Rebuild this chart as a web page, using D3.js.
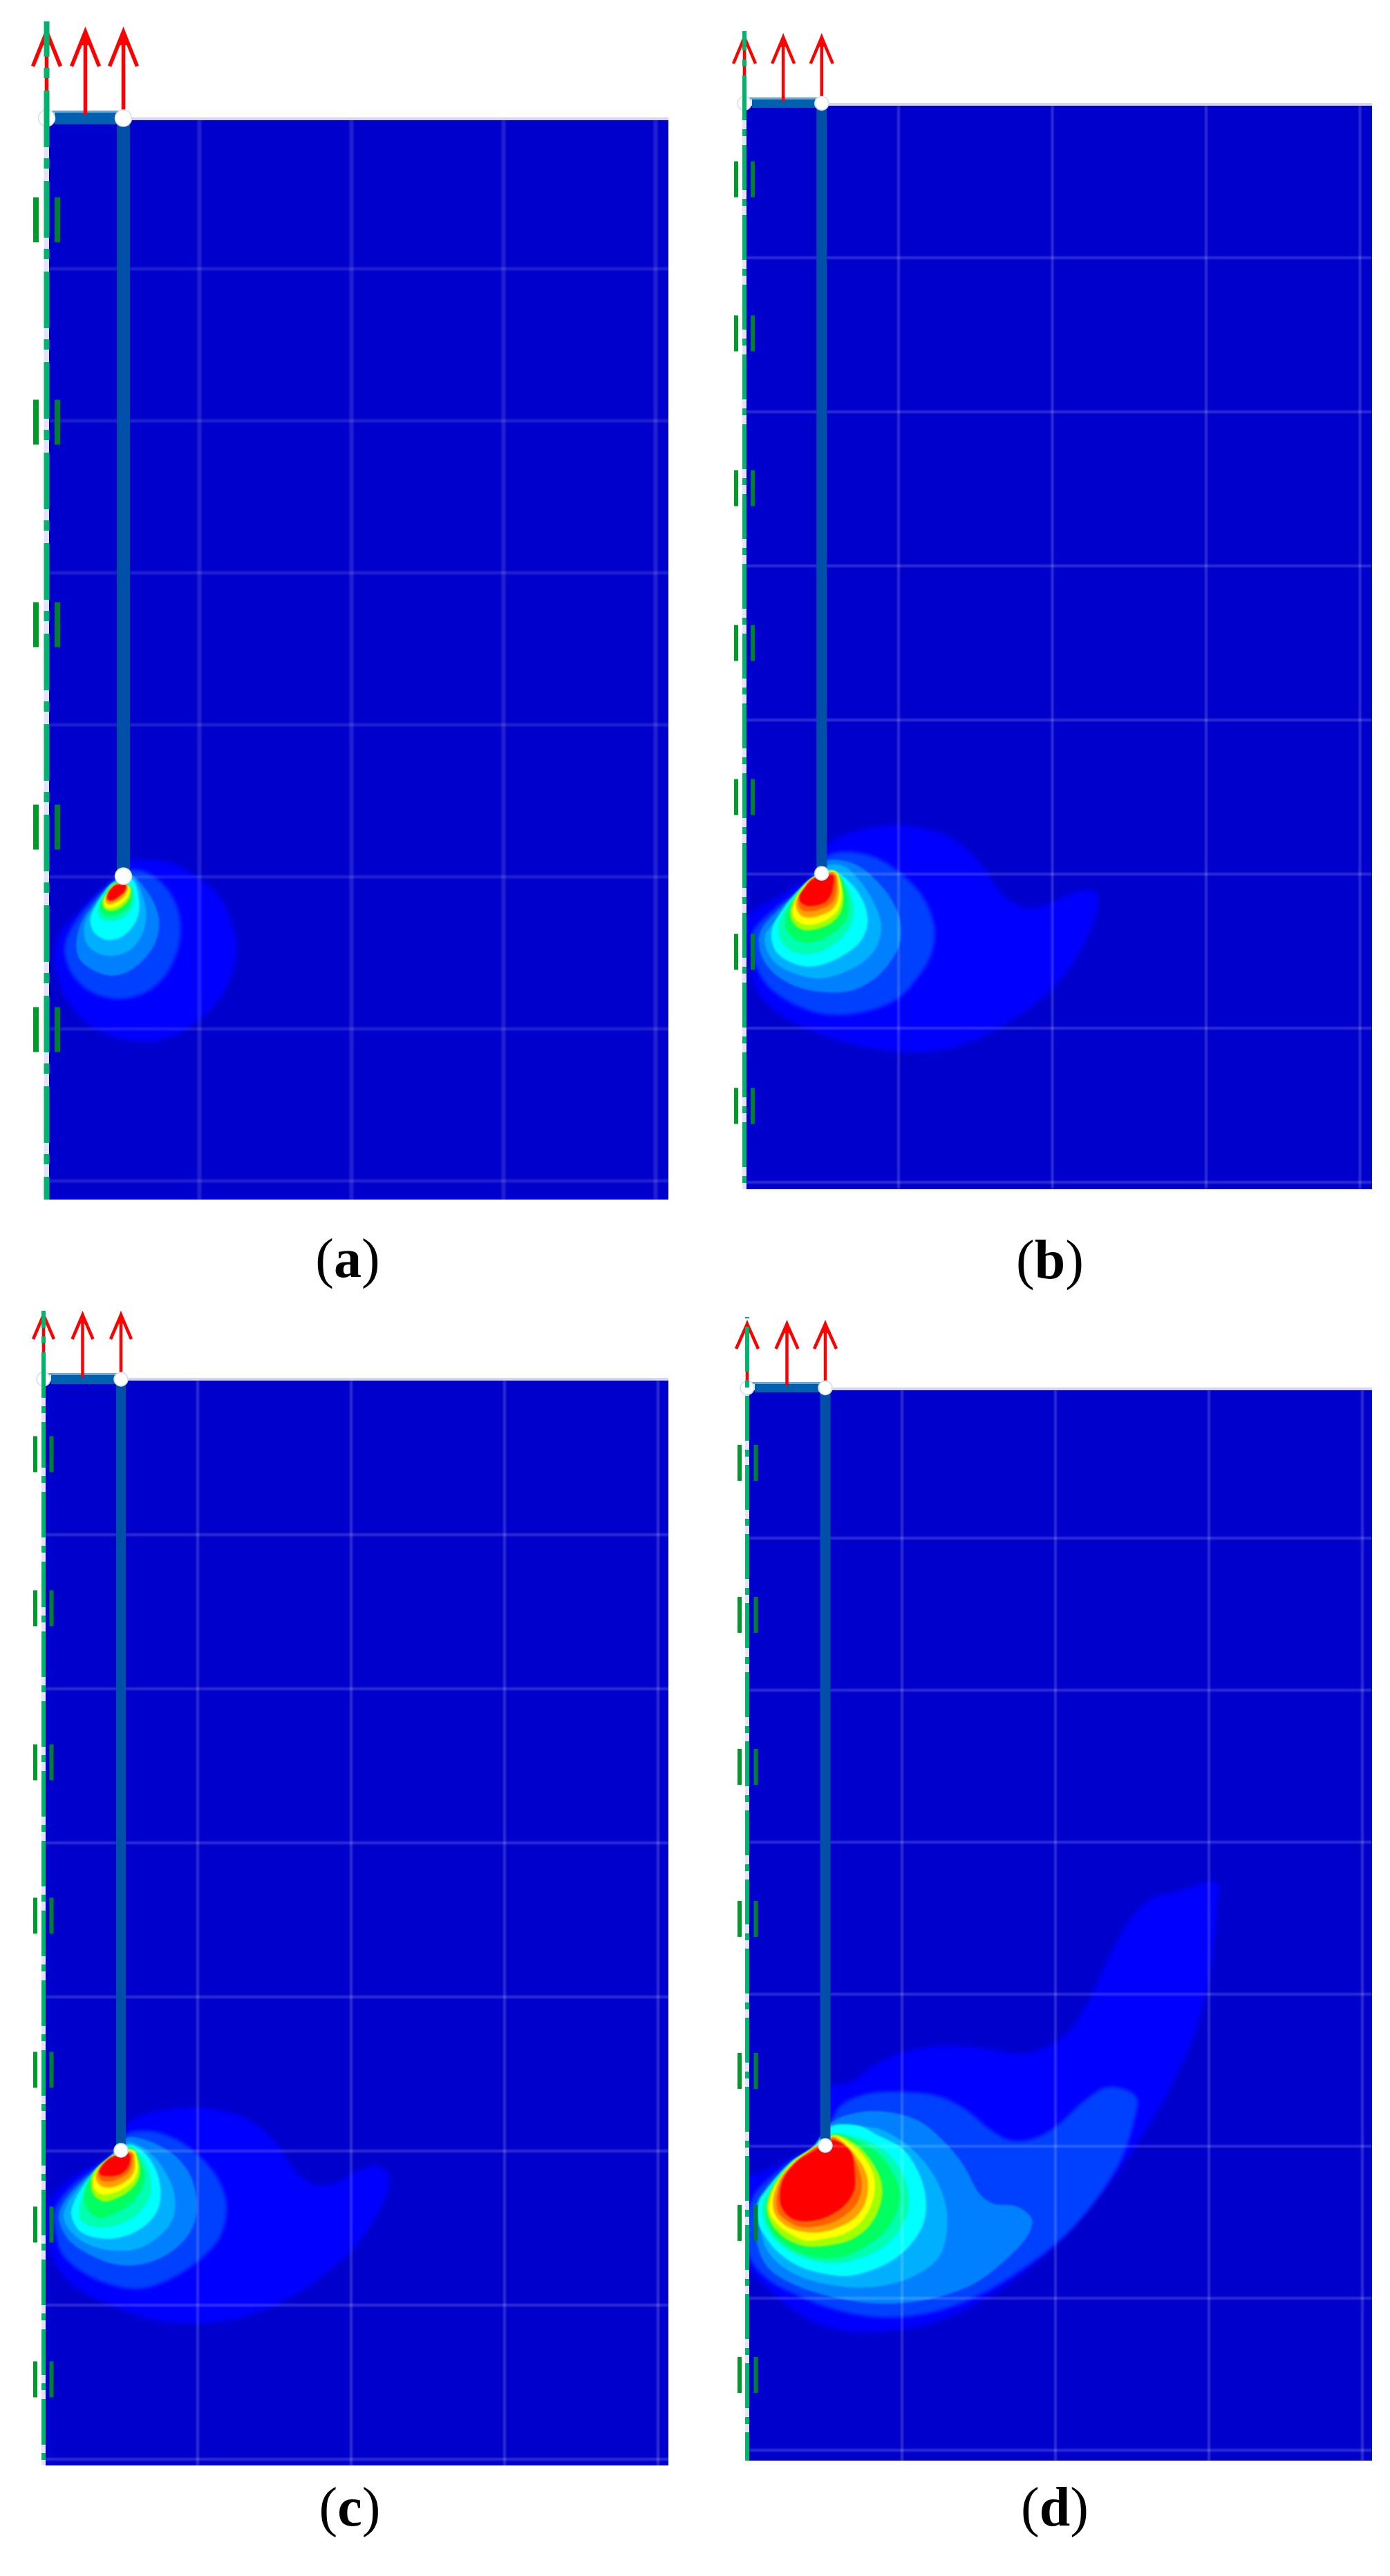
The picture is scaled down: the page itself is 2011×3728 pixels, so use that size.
<!DOCTYPE html>
<html lang="en">
<head>
<meta charset="UTF-8">
<title>Plastic strain contours around an uplifted anchor</title>
<script src="https://d3js.org/d3.v7.min.js"></script>
<style>
    body { margin: 0; background: #fff; }
    svg { display: block; }
    .label { font-family: "Liberation Serif", serif; fill: #000; }
</style>
</head>
<body>
<svg width="2011" height="3728"></svg>
<script>
// model units: 220 per grid cell, origin at the first grid crossing, anchor tip at (110, 1099)
const gridX = [220, 440, 660, 880];
const gridY = [220, 440, 660, 880, 1100, 1320, 1540];
const levelColors = ["#0000ff", "#0040ff", "#0080ff", "#00b0ff", "#00ffff", "#00ffb0", "#00ff60", "#a0ff00", "#ffff00", "#ffa000", "#ff6000", "#ff0000"];
const panelNames = ["a", "b", "c", "d"];

const supportsA = [149, 442, 735, 1028, 1321];
const supportsB = [108, 328, 549, 770, 990, 1211, 1431];
const supportsC = [105, 325, 545, 764, 984, 1205, 1426];
const supportsD = [111, 331, 551, 771, 991, 1211, 1431];

const contoursA = [
  [0, [[119,1078],[148,1076],[182,1081],[215,1099],[245,1124],[265,1161],[274,1201],[268,1238],[248,1278],[222,1304],[188,1328],[148,1338],[115,1336],[82,1326],[48,1304],[25,1271],[13,1238],[10,1211],[18,1181],[48,1148],[72,1124],[97,1103]]],
  [1, [[119,1090],[142,1093],[168,1111],[187,1141],[193,1174],[188,1208],[172,1241],[148,1264],[115,1276],[82,1274],[52,1259],[32,1234],[25,1208],[28,1188],[45,1158],[65,1134],[95,1106]]],
  [2, [[122,1098],[142,1118],[157,1144],[162,1168],[155,1198],[138,1221],[115,1238],[92,1243],[68,1236],[48,1221],[42,1204],[47,1171],[65,1141],[95,1108]]],
  [3, [[122,1099],[138,1128],[143,1154],[138,1181],[122,1204],[98,1214],[75,1211],[58,1198],[53,1178],[58,1158],[75,1134],[95,1108]]],
  [4, [[122,1103],[132,1128],[132,1154],[122,1174],[105,1188],[85,1191],[68,1181],[62,1164],[65,1151],[78,1128],[97,1108]]],
  [5, [[121,1114],[126,1131],[121,1148],[106,1161],[88,1164],[76,1159],[73,1146],[81,1128],[96,1109]]],
  [6, [[120,1116],[122,1131],[117,1144],[103,1154],[88,1157],[80,1153],[76,1141],[83,1126],[96,1110]]],
  [7, [[119,1114],[120,1128],[113,1139],[102,1147],[88,1149],[81,1144],[80,1134],[87,1123],[96,1111]]],
  [8, [[118,1114],[118,1126],[110,1136],[100,1143],[88,1145],[82,1140],[82,1133],[88,1122],[96,1112]]],
  [9, [[116,1113],[114,1124],[106,1133],[96,1138],[88,1140],[84,1136],[85,1129],[90,1120],[97,1112]]],
  [11, [[114,1112],[112,1121],[103,1129],[95,1134],[89,1134],[86,1131],[88,1123],[93,1116],[100,1111]]]
];

const contoursB = [
  [0, [[118,1058],[150,1041],[185,1033],[220,1030],[255,1035],[291,1046],[319,1066],[340,1089],[358,1115],[375,1135],[400,1148],[429,1145],[457,1132],[481,1124],[501,1125],[506,1142],[499,1168],[483,1204],[460,1240],[425,1277],[386,1306],[340,1332],[291,1349],[238,1354],[185,1349],[132,1336],[79,1316],[40,1293],[19,1270],[10,1244],[5,1198],[3,1165],[19,1148],[44,1135],[72,1117],[96,1104]]],
  [1, [[118,1074],[142,1068],[171,1071],[199,1082],[227,1102],[252,1128],[268,1161],[272,1184],[266,1217],[248,1247],[220,1277],[185,1293],[142,1301],[103,1298],[65,1283],[33,1260],[17,1234],[10,1201],[12,1181],[44,1148],[75,1125],[96,1105]]],
  [2, [[118,1081],[142,1081],[164,1089],[188,1109],[209,1135],[222,1165],[222,1198],[209,1224],[185,1250],[150,1267],[107,1268],[72,1260],[40,1240],[24,1217],[20,1191],[26,1175],[51,1148],[96,1107]]],
  [3, [[121,1087],[142,1089],[164,1109],[185,1142],[195,1171],[190,1201],[171,1224],[142,1240],[107,1249],[72,1242],[44,1227],[31,1207],[29,1188],[40,1171],[65,1142],[98,1107]]],
  [4, [[123,1094],[144,1106],[164,1129],[174,1152],[175,1175],[164,1198],[144,1214],[118,1227],[88,1232],[62,1224],[45,1211],[38,1191],[40,1175],[55,1149],[75,1125],[96,1107]]],
  [5, [[128,1096],[146,1117],[155,1140],[155,1163],[144,1185],[126,1201],[101,1213],[75,1213],[55,1200],[48,1183],[50,1165],[65,1140],[95,1107]]],
  [6, [[128,1096],[143,1117],[148,1140],[146,1162],[134,1178],[115,1191],[91,1198],[72,1193],[60,1180],[58,1165],[65,1144],[95,1107]]],
  [7, [[129,1096],[139,1117],[141,1139],[136,1157],[124,1170],[105,1178],[85,1180],[72,1173],[65,1160],[67,1144],[75,1129],[96,1106]]],
  [8, [[129,1096],[138,1119],[138,1137],[133,1152],[121,1163],[103,1171],[85,1172],[73,1165],[68,1155],[70,1142],[96,1106]]],
  [9, [[129,1098],[134,1116],[133,1135],[126,1149],[113,1157],[95,1162],[82,1160],[75,1152],[73,1140],[82,1125],[98,1106]]],
  [10, [[128,1099],[131,1116],[129,1132],[121,1144],[108,1150],[95,1153],[83,1152],[77,1145],[77,1135],[85,1122],[98,1106]]],
  [11, [[126,1101],[126,1119],[123,1130],[115,1140],[101,1145],[88,1145],[80,1140],[78,1132],[86,1119],[98,1107]]]
];

const contoursC = [
  [0, [[117,1063],[145,1047],[181,1040],[216,1038],[252,1042],[287,1052],[315,1071],[337,1094],[354,1121],[372,1140],[393,1149],[421,1145],[446,1130],[471,1121],[489,1127],[494,1147],[486,1173],[466,1209],[443,1239],[407,1272],[361,1305],[305,1331],[252,1344],[198,1346],[145,1338],[92,1318],[50,1298],[22,1272],[9,1242],[2,1203],[4,1177],[25,1150],[53,1130],[78,1117],[99,1104]]],
  [1, [[117,1076],[142,1071],[170,1075],[198,1088],[227,1111],[248,1137],[260,1167],[261,1193],[252,1223],[227,1252],[195,1275],[156,1293],[128,1297],[92,1290],[53,1272],[25,1246],[16,1216],[13,1193],[16,1180],[36,1153],[64,1130],[99,1104]]],
  [2, [[119,1081],[138,1082],[163,1091],[188,1107],[209,1134],[218,1167],[216,1200],[202,1226],[174,1249],[138,1262],[103,1262],[67,1249],[37,1229],[23,1206],[21,1190],[30,1170],[53,1144],[99,1104]]],
  [3, [[121,1088],[138,1093],[160,1111],[181,1144],[188,1173],[183,1200],[163,1223],[135,1239],[99,1242],[64,1234],[39,1216],[28,1196],[32,1177],[57,1144],[99,1104]]],
  [4, [[122,1091],[142,1101],[160,1127],[167,1157],[163,1183],[145,1206],[117,1221],[85,1225],[53,1216],[39,1193],[41,1177],[60,1144],[99,1105]]],
  [5, [[124,1094],[142,1111],[152,1137],[152,1163],[138,1186],[110,1204],[78,1209],[53,1200],[50,1183],[66,1140],[99,1106]]],
  [6, [[126,1096],[137,1114],[144,1134],[138,1157],[124,1175],[99,1190],[78,1195],[62,1183],[57,1163],[66,1137],[99,1106]]],
  [7, [[127,1098],[137,1121],[135,1140],[122,1157],[103,1168],[85,1172],[71,1163],[67,1147],[71,1130],[99,1106]]],
  [8, [[127,1099],[134,1121],[131,1137],[119,1150],[99,1160],[82,1162],[71,1153],[71,1137],[99,1107]]],
  [9, [[126,1101],[130,1121],[126,1134],[114,1145],[96,1152],[82,1150],[74,1140],[76,1129],[99,1107]]],
  [10, [[125,1103],[125,1121],[119,1132],[106,1140],[92,1144],[82,1142],[77,1134],[80,1125],[99,1108]]],
  [11, [[122,1104],[122,1119],[115,1129],[103,1135],[91,1136],[81,1134],[79,1129],[87,1116],[99,1108]]]
];

const contoursD = [
  [0, [[117,1013],[143,1009],[181,982],[223,964],[271,955],[328,957],[394,966],[427,957],[456,937],[484,897],[517,826],[550,768],[579,741],[621,730],[652,719],[672,719],[672,754],[662,844],[645,920],[621,982],[584,1053],[541,1120],[489,1187],[441,1241],[385,1290],[323,1330],[261,1357],[195,1368],[133,1366],[81,1348],[34,1312],[5,1281],[-5,1232],[-5,1147],[24,1136],[57,1120],[100,1098]]],
  [1, [[117,1067],[133,1040],[171,1024],[218,1021],[271,1027],[309,1045],[347,1076],[375,1091],[408,1089],[441,1071],[479,1036],[512,1015],[541,1018],[557,1031],[552,1067],[534,1120],[498,1178],[451,1232],[394,1277],[328,1317],[261,1341],[195,1348],[133,1339],[72,1317],[24,1290],[1,1259],[-3,1210],[8,1170],[34,1143],[62,1120],[100,1098]]],
  [2, [[117,1067],[157,1051],[204,1051],[247,1065],[285,1098],[309,1129],[332,1170],[351,1183],[384,1187],[406,1205],[401,1228],[370,1263],[323,1299],[261,1321],[195,1328],[133,1321],[72,1303],[29,1277],[12,1241],[10,1187],[29,1156],[62,1123],[100,1098]]],
  [3, [[117,1071],[152,1071],[190,1076],[233,1103],[266,1143],[283,1187],[283,1232],[271,1263],[233,1290],[176,1304],[119,1301],[62,1283],[29,1254],[17,1219],[19,1178],[62,1125],[100,1098]]],
  [4, [[117,1072],[157,1070],[185,1084],[221,1104],[245,1141],[254,1177],[251,1211],[231,1244],[205,1266],[172,1281],[139,1288],[106,1284],[73,1274],[43,1254],[24,1231],[14,1211],[14,1181],[27,1161],[60,1124],[90,1104]]],
  [5, [[122,1082],[146,1084],[192,1104],[218,1134],[229,1164],[229,1191],[215,1224],[192,1247],[162,1261],[132,1269],[99,1267],[66,1256],[40,1237],[24,1214],[19,1191],[27,1167],[60,1124],[90,1104]]],
  [6, [[122,1083],[139,1086],[182,1107],[208,1141],[217,1167],[212,1197],[195,1224],[169,1244],[139,1259],[106,1262],[73,1254],[50,1241],[32,1221],[25,1194],[32,1167],[60,1126],[90,1104]]],
  [7, [[122,1084],[136,1087],[165,1107],[187,1141],[192,1164],[187,1191],[172,1217],[146,1236],[113,1244],[83,1245],[57,1236],[37,1219],[27,1197],[27,1181],[35,1159],[60,1126],[90,1104]]],
  [8, [[122,1085],[132,1087],[162,1111],[179,1141],[181,1164],[175,1187],[162,1209],[139,1226],[109,1234],[83,1237],[60,1227],[40,1212],[29,1194],[29,1181],[38,1157],[60,1127],[90,1105]]],
  [9, [[122,1086],[129,1089],[154,1114],[169,1141],[171,1164],[165,1187],[152,1204],[132,1216],[106,1224],[80,1224],[57,1217],[40,1202],[35,1187],[37,1167],[47,1144],[60,1129],[90,1105]]],
  [10, [[122,1088],[126,1091],[149,1114],[160,1141],[162,1161],[156,1181],[142,1197],[123,1209],[99,1216],[76,1217],[57,1209],[43,1196],[40,1181],[42,1164],[50,1144],[90,1106]]],
  [11, [[121,1091],[146,1107],[152,1137],[151,1164],[139,1184],[119,1199],[96,1207],[73,1208],[57,1201],[47,1187],[45,1171],[50,1147],[70,1121],[93,1107]]]
];

const contours = [contoursA, contoursB, contoursC, contoursD];
const supports = [supportsA, supportsB, supportsC, supportsD];

// where each panel sits on the page
const layout = [
  {x0: 68.5, ux: 220, y0: 169, uy: 220, left: 71, right: 967, top: 174, bottom: 1736, axisX: 67.5, axisW: 8, axisTop: 31, dash: "82 16 15 18", dashStart: 131, shaftW: 19, r: 12, plateTop: 160, plateBot: 180, arrowTip: 40, barbY: 96, barbW: 20, arrowBase: 166, arrowW: 5.5, supL: 52, supR: 83, supW: 8, supLen: 65, gridW: 6, gridA: 0.13, labelX: 503, labelY: 1848},
  {x0: 1077.5, ux: 222.5, y0: 150, uy: 223, left: 1080, right: 1985, top: 153, bottom: 1721, axisX: 1077, axisW: 6, axisTop: 45, dash: "65 13 10 13", dashStart: 1119, shaftW: 15, r: 10, plateTop: 141, plateBot: 156, arrowTip: 48, barbY: 92, barbW: 16, arrowBase: 146, arrowW: 4.5, supL: 1065, supR: 1089, supW: 6, supLen: 52, gridW: 3.5, gridA: 0.2, labelX: 1519, labelY: 1850},
  {x0: 64, ux: 222, y0: 1998, uy: 223, left: 66, right: 967, top: 1998, bottom: 3568, axisX: 63, axisW: 6, axisTop: 1897, dash: "66 12 10 13", dashStart: 2967, shaftW: 14, r: 10, plateTop: 1987, plateBot: 2003, arrowTip: 1897, barbY: 1938, barbW: 15, arrowBase: 1993, arrowW: 4.5, supL: 51, supR: 74.5, supW: 6, supLen: 52, gridW: 4, gridA: 0.18, labelX: 506, labelY: 3655},
  {x0: 1083, ux: 222, y0: 2006, uy: 220, left: 1084, right: 1985, top: 2012, bottom: 3561, axisX: 1081, axisW: 6, axisTop: 1906, dash: "65 13 10 12", dashStart: 2020, shaftW: 15, r: 10, plateTop: 2000, plateBot: 2015, arrowTip: 1910, barbY: 1952, barbW: 16, arrowBase: 2005, arrowW: 4.5, supL: 1070, supR: 1093.5, supW: 6, supLen: 52, gridW: 3.5, gridA: 0.2, labelX: 1526, labelY: 3655}
];

const svg = d3.select("svg");
const defs = svg.append("defs");
const addBlur = (id, sd) => defs.append("filter").attr("id", id)
    .attr("x", "-10%").attr("y", "-10%").attr("width", "120%").attr("height", "120%")
    .append("feGaussianBlur").attr("stdDeviation", sd);
addBlur("blurGrid", 0.8);
addBlur("blurHot", 1.3);
addBlur("blurMid", 2.4);
addBlur("blurOuter", 3.4);

const contourLine = d3.line().curve(d3.curveCatmullRomClosed.alpha(0.5));

layout.forEach((p, i) => {
    const x = d3.scaleLinear().domain([0, 880]).range([p.x0, p.x0 + 4 * p.ux]);
    const y = d3.scaleLinear().domain([0, 1540]).range([p.y0, p.y0 + 7 * p.uy]);
    const g = svg.append("g").attr("class", "panel-" + panelNames[i]);

    defs.append("clipPath").attr("id", "clip" + i).append("rect")
        .attr("x", p.left).attr("y", p.top)
        .attr("width", p.right - p.left).attr("height", p.bottom - p.top);

    // pale fringe above the soil block
    g.append("rect").attr("x", x(110)).attr("y", p.top - 4)
        .attr("width", p.right - x(110)).attr("height", 4).attr("fill", "#d6d6f3");

    // pale strip seen through the gaps of the axis
    g.append("rect").attr("x", p.axisX - p.axisW / 2).attr("y", p.plateBot)
        .attr("width", p.axisW).attr("height", p.bottom - p.plateBot).attr("fill", "#e4e4f8");

    // soil block
    g.append("rect").attr("x", p.left).attr("y", p.top)
        .attr("width", p.right - p.left).attr("height", p.bottom - p.top).attr("fill", "#0000cc");

    const field = g.append("g").attr("clip-path", `url(#clip${i})`);

    field.selectAll("path.contour").data(contours[i]).enter().append("path")
        .attr("class", "contour")
        .attr("d", d => contourLine(d[1].map(q => [x(q[0]), y(q[1])])))
        .attr("fill", d => levelColors[d[0]])
        .attr("filter", d => d[0] === 0 ? "url(#blurOuter)" : d[0] === 1 ? "url(#blurMid)" : "url(#blurHot)");

    const grid = field.append("g").attr("filter", "url(#blurGrid)");
    grid.selectAll("line.gx").data(gridX).enter().append("line")
        .attr("class", "gx")
        .attr("x1", x).attr("x2", x).attr("y1", p.top).attr("y2", p.bottom)
        .attr("stroke", "#fff").attr("stroke-opacity", p.gridA).attr("stroke-width", p.gridW);
    grid.selectAll("line.gy").data(gridY).enter().append("line")
        .attr("class", "gy")
        .attr("x1", p.left).attr("x2", p.right).attr("y1", y).attr("y2", y)
        .attr("stroke", "#fff").attr("stroke-opacity", p.gridA).attr("stroke-width", Math.min(p.gridW, 4.5));

    // footing plate and anchor shaft
    g.append("rect").attr("x", x(110) - p.shaftW / 2).attr("y", p.plateBot - 4)
        .attr("width", p.shaftW).attr("height", y(1099) - p.plateBot + 4).attr("fill", "#0050a8");
    g.append("rect").attr("x", p.left + 4).attr("y", p.plateTop)
        .attr("width", x(110) - p.left - 4).attr("height", 3).attr("fill", "#6aa7d6");
    g.append("rect").attr("x", p.left + 8).attr("y", p.plateTop + 3)
        .attr("width", x(110) - p.left - 8).attr("height", p.plateBot - p.plateTop - 3).attr("fill", "#0060b0");

    // red uplift arrows, the axis runs over the first one
    const arrowX = [p.axisX, x(55), x(110)];
    const arrows = g.selectAll("g.arrow").data(arrowX).enter().append("g").attr("class", "arrow")
        .attr("fill", "none").attr("stroke", "#f00").attr("stroke-width", p.arrowW);
    arrows.append("line").attr("x1", d => d).attr("x2", d => d)
        .attr("y1", p.arrowTip + 10).attr("y2", p.arrowBase);
    arrows.append("path").attr("d", d => `M${d - p.barbW},${p.barbY}L${d},${p.arrowTip + 6}L${d + p.barbW},${p.barbY}`);
    const headH = (p.barbY - p.arrowTip) * 0.45;
    arrows.append("path").attr("stroke", "none").attr("fill", "#f00")
        .attr("d", d => `M${d},${p.arrowTip}L${d - p.barbW * 0.4},${p.arrowTip + headH}L${d + p.barbW * 0.4},${p.arrowTip + headH}Z`);

    // joint circles
    const plateMid = (p.plateTop + p.plateBot) / 2 + 1;
    const joints = [[p.axisX, plateMid], [x(110), plateMid], [x(110), y(1099)]];
    g.selectAll("circle.joint").data(joints).enter().append("circle")
        .attr("class", "joint").attr("cx", d => d[0]).attr("cy", d => d[1]).attr("r", p.r).attr("fill", "#fff")
        .attr("stroke", "#cfe0f2").attr("stroke-width", 1.5);

    // symmetry axis, dash-dot
    const dashTotal = d3.sum(p.dash.split(" ").map(Number));
    g.append("line").attr("x1", p.axisX).attr("x2", p.axisX)
        .attr("y1", p.axisTop).attr("y2", p.bottom)
        .attr("stroke", "#00b46e").attr("stroke-width", p.axisW)
        .attr("stroke-dasharray", p.dash)
        .attr("stroke-dashoffset", dashTotal - ((p.dashStart - p.axisTop) % dashTotal));

    // roller supports on both sides of the axis
    [[p.supL, "#009a2a"], [p.supR, "#00802a"]].forEach(s => {
        g.selectAll(null).data(supports[i]).enter().append("rect")
            .attr("x", s[0] - p.supW / 2).attr("y", d => y(d) - p.supLen / 2)
            .attr("width", p.supW).attr("height", p.supLen).attr("fill", s[1]);
    });

    const label = svg.append("text").attr("class", "label")
        .attr("x", p.labelX).attr("y", p.labelY).attr("text-anchor", "middle").attr("font-size", 80);
    label.append("tspan").text("(");
    label.append("tspan").attr("font-weight", "bold").text(panelNames[i]);
    label.append("tspan").text(")");
});
</script>
</body>
</html>
